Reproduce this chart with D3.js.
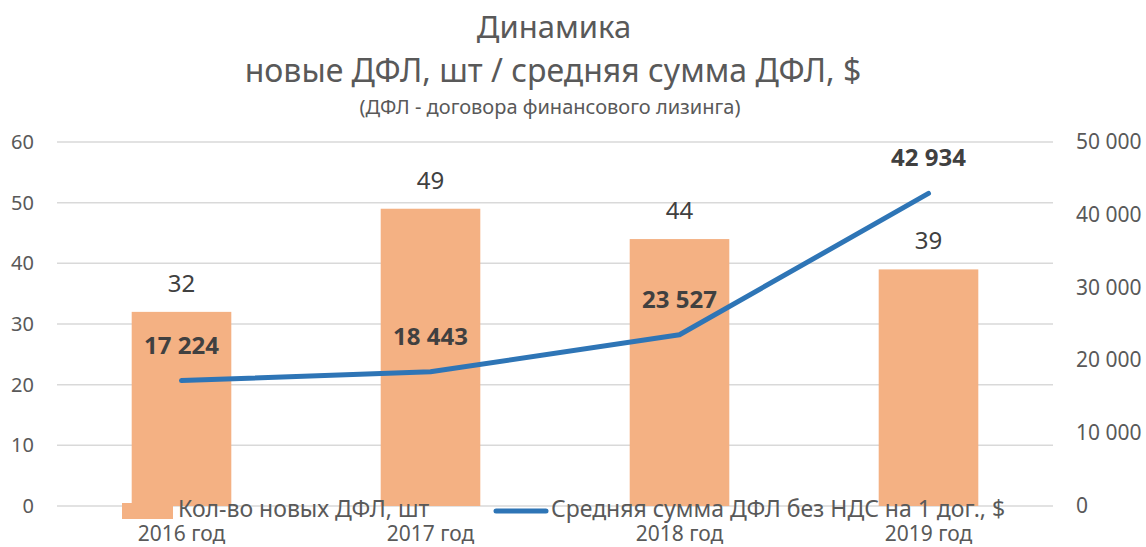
<!DOCTYPE html>
<html>
<head>
<meta charset="utf-8">
<script src="https://cdn.jsdelivr.net/npm/d3@7"></script>
<style>
  body { margin: 0; background: #fff; }
  svg text { font-family: "Noto Sans", sans-serif; }
</style>
</head>
<body>
<div id="chart"></div>
<script>
let width = 1146
let height = 547

// data
let years = ['2016 год', '2017 год', '2018 год', '2019 год']
let contracts = [32, 49, 44, 39]
let avgSum = [17224, 18443, 23527, 42934]
let leftTicks = [0, 10, 20, 30, 40, 50, 60]
let rightTicks = [0, 10000, 20000, 30000, 40000, 50000]
let legendNames = ['Кол-во новых ДФЛ, шт', 'Средняя сумма ДФЛ без НДС на 1 дог., $']
let titleLines = ['Динамика', 'новые ДФЛ, шт / средняя сумма ДФЛ, $']
let subtitle = '(ДФЛ - договора финансового лизинга)'

let barColor = '#F4B183'
let lineColor = '#2E75B6'
let textColor = '#595959'
let labelColor = '#404040'

let plot = { left: 57, right: 1053, top: 142, bottom: 506 }

let fmt = v => d3.format(',')(v).replace(/,/g, ' ')

let svg = d3.select('#chart').append('svg')
    .attr('width', width)
    .attr('height', height)

let x = d3.scaleBand()
    .domain(years)
    .range([plot.left, plot.right])
    .paddingInner(0.6)
    .paddingOuter(0.3)
let yL = d3.scaleLinear().domain([0, 60]).range([plot.bottom, plot.top])
let yR = d3.scaleLinear().domain([0, 50000]).range([plot.bottom, plot.top])

// titles
svg.append('text')
    .attr('x', 554).attr('y', 38)
    .attr('text-anchor', 'middle')
    .attr('font-size', 31).attr('fill', textColor)
    .text(titleLines[0])
svg.append('text')
    .attr('x', 553).attr('y', 82)
    .attr('text-anchor', 'middle')
    .attr('font-size', 32).attr('fill', textColor)
    .text(titleLines[1])
svg.append('text')
    .attr('x', 550).attr('y', 114)
    .attr('text-anchor', 'middle')
    .attr('font-size', 20).attr('fill', textColor)
    .text(subtitle)

// grid
svg.append('g')
    .selectAll('line')
    .data(leftTicks)
    .join('line')
    .attr('x1', plot.left).attr('x2', plot.right)
    .attr('y1', d => yL(d)).attr('y2', d => yL(d))
    .attr('stroke', '#D9D9D9').attr('stroke-width', 1.5)

// left axis labels
svg.append('g')
    .selectAll('text')
    .data(leftTicks)
    .join('text')
    .attr('x', 34).attr('y', d => yL(d) + 7)
    .attr('text-anchor', 'end')
    .attr('font-size', 20).attr('fill', textColor)
    .text(d => d)

// right axis labels
svg.append('g')
    .selectAll('text')
    .data(rightTicks)
    .join('text')
    .attr('x', 1076).attr('y', d => yR(d) + 7)
    .attr('font-size', 21).attr('fill', textColor)
    .text(d => fmt(d))

// bars
svg.append('g')
    .selectAll('rect')
    .data(contracts)
    .join('rect')
    .attr('x', (d, i) => x(years[i]))
    .attr('width', x.bandwidth())
    .attr('y', d => yL(d))
    .attr('height', d => yL(0) - yL(d))
    .attr('fill', barColor)

svg.append('g')
    .selectAll('text')
    .data(contracts)
    .join('text')
    .attr('x', (d, i) => x(years[i]) + x.bandwidth() / 2)
    .attr('y', d => yL(d) - 20)
    .attr('text-anchor', 'middle')
    .attr('font-size', 24).attr('fill', labelColor)
    .text(d => d)

// line
let line = d3.line()
    .x((d, i) => x(years[i]) + x.bandwidth() / 2)
    .y(d => yR(d))
svg.append('path')
    .datum(avgSum)
    .attr('d', line)
    .attr('fill', 'none')
    .attr('stroke', lineColor)
    .attr('stroke-width', 5)
    .attr('stroke-linecap', 'round')
    .attr('stroke-linejoin', 'round')

svg.append('g')
    .selectAll('text')
    .data(avgSum)
    .join('text')
    .attr('x', (d, i) => x(years[i]) + x.bandwidth() / 2)
    .attr('y', d => yR(d) - 27)
    .attr('text-anchor', 'middle')
    .attr('font-size', 24).attr('font-weight', 'bold').attr('fill', labelColor)
    .text(d => fmt(d))

// x labels
svg.append('g')
    .selectAll('text')
    .data(years)
    .join('text')
    .attr('x', d => x(d) + x.bandwidth() / 2)
    .attr('y', 541)
    .attr('text-anchor', 'middle')
    .attr('font-size', 21).attr('fill', textColor)
    .text(d => d)

// legend (overlaps the axis labels, as in the original)
let legend = svg.append('g')
legend.append('rect')
    .attr('x', 122).attr('y', 503)
    .attr('width', 51).attr('height', 16)
    .attr('fill', barColor)
legend.append('text')
    .attr('x', 178).attr('y', 517)
    .attr('font-size', 23).attr('fill', textColor)
    .text(legendNames[0])
legend.append('line')
    .attr('x1', 496).attr('x2', 546)
    .attr('y1', 511).attr('y2', 511)
    .attr('stroke', lineColor).attr('stroke-width', 5)
    .attr('stroke-linecap', 'round')
legend.append('text')
    .attr('x', 551).attr('y', 517)
    .attr('font-size', 23).attr('fill', textColor)
    .text(legendNames[1])
</script>
</body>
</html>
